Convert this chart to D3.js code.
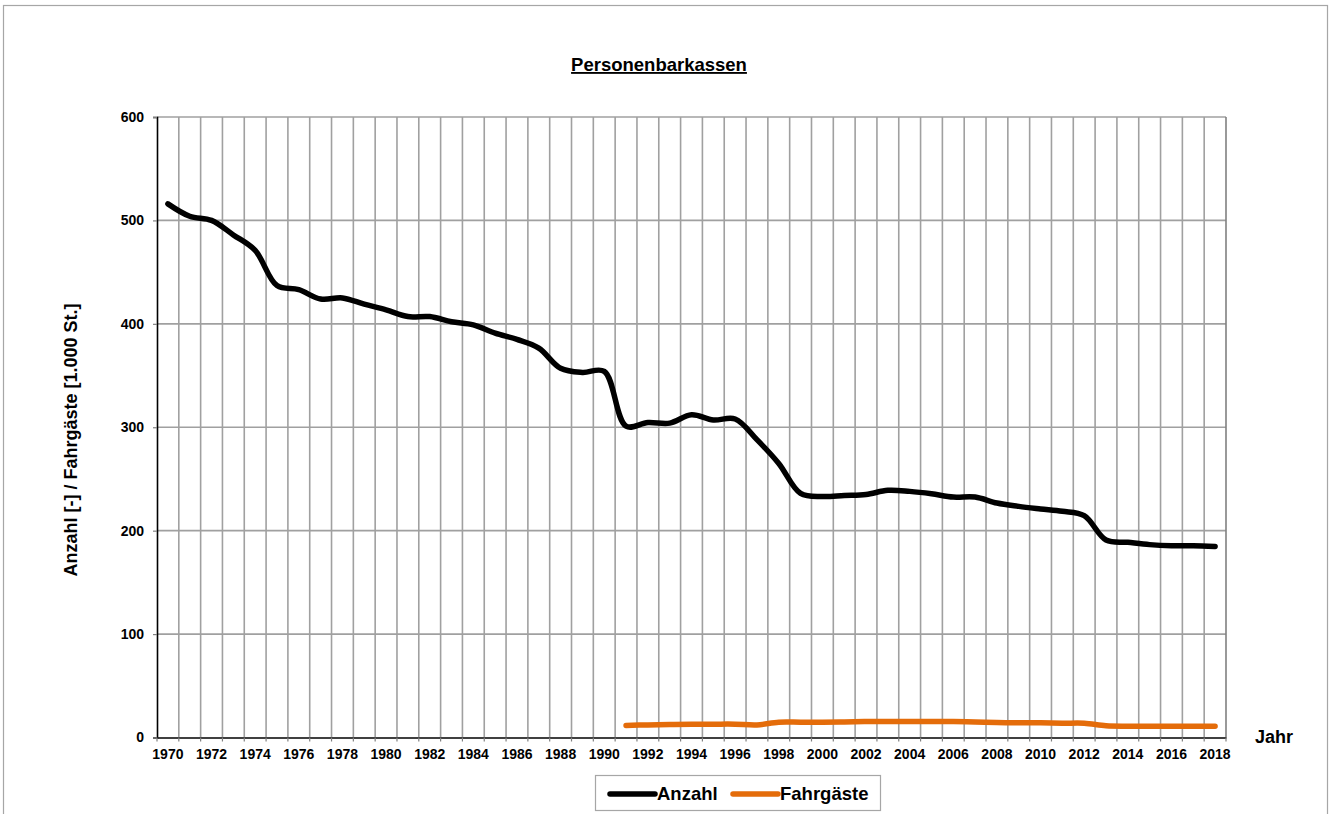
<!DOCTYPE html>
<html>
<head>
<meta charset="utf-8">
<script src="https://cdn.jsdelivr.net/npm/d3@7"></script>
<style>
  html, body { margin: 0; padding: 0; background: #fff; }
  svg { display: block; font-family: "Liberation Sans", Arial, sans-serif; }
</style>
</head>
<body>
<svg id="chart" width="1330" height="814"></svg>
<script>
const years = d3.range(1970, 2019);
const anzahl = [516, 504, 500, 486, 471, 437, 433, 424, 425, 419,
                413.5, 407, 407, 402, 399, 391, 385, 376.5, 357, 353,
                354, 301, 304.6, 304, 312, 307, 308, 288, 265, 236,
                233, 234, 235, 239, 238, 235.7, 232.5, 232.5, 226.7, 223.5,
                221, 218.7, 214.5, 191, 188.7, 186.5, 185.5, 185.5, 184.8];
const fahrgaesteYears = d3.range(1991, 2019);
const fahrgaeste = [11.6, 12.2, 12.6, 12.9, 12.9, 12.9, 12.2, 14.8, 14.8, 14.8,
                    15.1, 15.5, 15.5, 15.5, 15.5, 15.5, 15.1, 14.5, 14.2, 14.2,
                    13.8, 13.8, 11.3, 10.9, 10.9, 10.9, 10.9, 10.9];
const yTicks = [0, 100, 200, 300, 400, 500, 600];
const xTickLabels = years.filter(y => y % 2 === 0);
const seriesNames = ["Anzahl", "Fahrgäste"];
const seriesColors = ["#000000", "#e46c0a"];
const chartTitle = "Personenbarkassen";
const yTitle = "Anzahl [-] / Fahrgäste [1.000 St.]";
const xTitle = "Jahr";

const svg = d3.select("#chart");
const pLeft = 157, pRight = 1226, pTop = 117, pBottom = 737.5;

// outer chart border
svg.append("rect").attr("x", 3.5).attr("y", 5.5).attr("width", 1324).attr("height", 830)
  .attr("fill", "none").attr("stroke", "#a6a6a6").attr("stroke-width", 1.2);

const x = d3.scaleBand().domain(years).range([pLeft, pRight]).padding(0);
const y = d3.scaleLinear().domain([0, 600]).range([pBottom, pTop]);

const g = svg.append("g");

// horizontal gridlines
g.selectAll("line.hgrid").data(yTicks.filter(t => t > 0)).join("line")
  .attr("x1", pLeft).attr("x2", pRight)
  .attr("y1", d => y(d)).attr("y2", d => y(d))
  .attr("stroke", "#a0a0a0").attr("stroke-width", 1.6);

// vertical gridlines at category boundaries
g.selectAll("line.vgrid").data(years.slice(1)).join("line")
  .attr("x1", d => x(d)).attr("x2", d => x(d))
  .attr("y1", pTop).attr("y2", pBottom)
  .attr("stroke", "#a0a0a0").attr("stroke-width", 1.6);

// right border
g.append("line").attr("x1", pRight).attr("x2", pRight).attr("y1", pTop).attr("y2", pBottom)
  .attr("stroke", "#808080").attr("stroke-width", 1.6);

// Y axis
const yAxis = d3.axisLeft(y).tickValues(yTicks).tickSize(4).tickPadding(9);
const ya = svg.append("g").attr("transform", `translate(${pLeft},0)`).call(yAxis);
ya.select(".domain").attr("stroke", "#000").attr("stroke-width", 1.6);
ya.selectAll(".tick line").attr("stroke", "#808080").attr("stroke-width", 1.2);
ya.selectAll(".tick text").attr("font-size", 14).attr("font-weight", "bold")
  .attr("fill", "#000").attr("font-family", "Liberation Sans, Arial, sans-serif");

// X axis
const xAxis = d3.axisBottom(x).tickValues(xTickLabels).tickSize(0).tickPadding(12);
const xa = svg.append("g").attr("transform", `translate(0,${pBottom})`).call(xAxis);
xa.select(".domain").attr("stroke", "#000").attr("stroke-width", 1.6);
xa.selectAll(".tick text").attr("font-size", 14).attr("font-weight", "bold")
  .attr("fill", "#000").attr("font-family", "Liberation Sans, Arial, sans-serif");
// tick marks at category boundaries
svg.append("g").selectAll("line").data(years.concat([null])).join("line")
  .attr("x1", (d, i) => pLeft + i * x.bandwidth()).attr("x2", (d, i) => pLeft + i * x.bandwidth())
  .attr("y1", pBottom).attr("y2", pBottom + 4)
  .attr("stroke", "#808080").attr("stroke-width", 1.2);

// lines
const line = d3.line()
  .x(d => x(d[0]) + x.bandwidth() / 2)
  .y(d => y(d[1]))
  .curve(d3.curveCatmullRom.alpha(0.5));

const series = [
  years.map((yr, i) => [yr, anzahl[i]]),
  fahrgaesteYears.map((yr, i) => [yr, fahrgaeste[i]])
];
svg.append("g").selectAll("path").data(series).join("path")
  .attr("d", line)
  .attr("fill", "none")
  .attr("stroke", (d, i) => seriesColors[i])
  .attr("stroke-width", 5.5)
  .attr("stroke-linecap", "round")
  .attr("stroke-linejoin", "round");

// title
svg.append("text").attr("x", 659).attr("y", 71).attr("text-anchor", "middle")
  .attr("font-size", 18.5).attr("font-weight", "bold").attr("text-decoration", "underline")
  .text(chartTitle);

// y title
svg.append("text").attr("transform", "translate(77,440) rotate(-90)")
  .attr("text-anchor", "middle").attr("font-size", 18).attr("font-weight", "bold")
  .text(yTitle);

// x title
svg.append("text").attr("x", 1255).attr("y", 743).attr("font-size", 18).attr("font-weight", "bold")
  .text(xTitle);

// legend
const lg = svg.append("g");
lg.append("rect").attr("x", 595.5).attr("y", 775.5).attr("width", 285).attr("height", 35)
  .attr("fill", "#fff").attr("stroke", "#a6a6a6").attr("stroke-width", 1.2);
const legendItems = [
  { name: seriesNames[0], color: seriesColors[0], x1: 610, x2: 655, tx: 657 },
  { name: seriesNames[1], color: seriesColors[1], x1: 733, x2: 778, tx: 780 }
];
legendItems.forEach(it => {
  lg.append("line").attr("x1", it.x1).attr("x2", it.x2).attr("y1", 794).attr("y2", 794)
    .attr("stroke", it.color).attr("stroke-width", 5.5).attr("stroke-linecap", "round");
  lg.append("text").attr("x", it.tx).attr("y", 800).attr("font-size", 18.5).attr("font-weight", "bold")
    .text(it.name);
});
</script>
</body>
</html>
